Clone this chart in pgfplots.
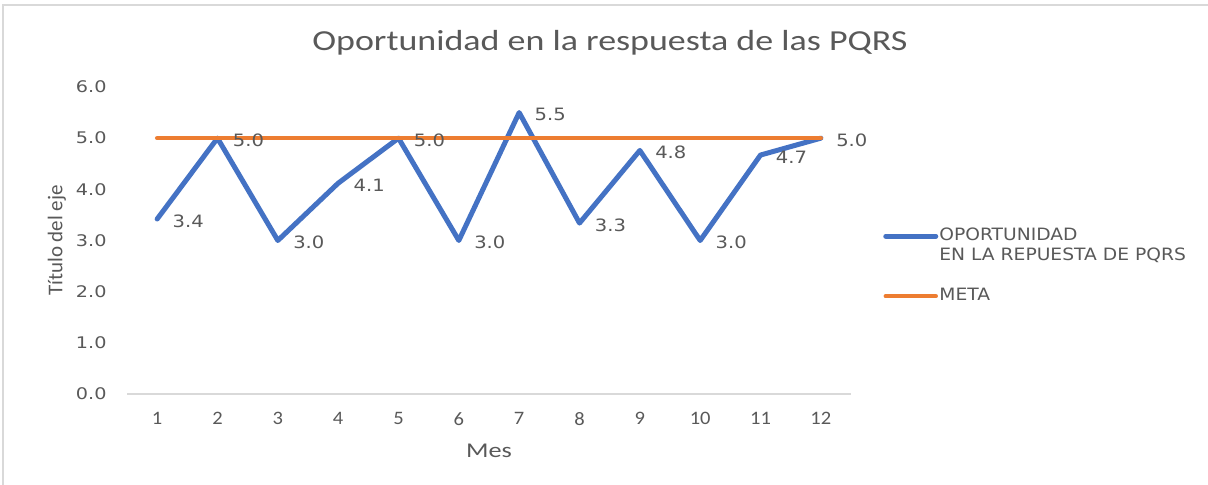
\documentclass[border=0pt]{standalone}
\usepackage{fontspec}
\setmainfont{Carlito}
\newfontfamily\dejavu{DejaVu Sans}
\usepackage{pgfplots}
\pgfplotsset{compat=1.18}

\definecolor{serieA}{HTML}{4472C4}
\definecolor{serieB}{HTML}{ED7D31}
\definecolor{txt}{HTML}{595959}
\definecolor{rejilla}{HTML}{D9D9D9}

\pgfplotstableread{
mes valor
1 3.42
2 5.0
3 3.0
4 4.12
5 5.0
6 3.0
7 5.5
8 3.34
9 4.76
10 3.0
11 4.67
12 5.0
}\oportunidad

\pgfplotstableread{
mes valor
1 5.0
12 5.0
}\meta

\begin{document}
\begin{tikzpicture}
\useasboundingbox (0,0) rectangle (604pt,242.5pt);
\fill[white] (0,0) rectangle (604pt,242.5pt);
\draw[rejilla, line width=1pt] (1.5pt,0) -- (1.5pt,240pt) -- (604pt,240pt);
\begin{axis}[
    at={(63.5pt,45.5pt)}, anchor=south west,
    scale only axis,
    width=362pt, height=153.5pt,
    xmin=0.5, xmax=12.5,
    ymin=0, ymax=6,
    xtick={1,...,12},
    ytick={0,1,...,6},
    axis line style={draw=none},
    axis x line*=bottom,
    axis y line*=left,
    extra description/.code={
        \draw[rejilla, line width=1pt] (axis description cs:0,0) -- (axis description cs:1,0);
    },
    major tick length=0pt,
    yticklabel style={font=\dejavu\fontsize{8}{9}\selectfont, text=txt, anchor=east, inner sep=0pt,
        xshift=-10pt, xscale=1.2,
        /pgf/number format/.cd, fixed, fixed zerofill, precision=1, assume math mode=true},
    xticklabel style={font=\fontsize{9.5}{11}\selectfont, text=txt, anchor=north, inner sep=0pt,
        yshift=-9pt, xscale=1.08,
        /pgf/number format/assume math mode=true},
    xlabel={Mes},
    ylabel={Título del eje},
    xlabel style={at={(axis description cs:0.5,0)}, anchor=north, inner sep=0pt, yshift=-25pt,
        xscale=1.25, font=\fontsize{10.5}{12}\selectfont, text=txt},
    ylabel style={at={(axis description cs:-0.097,0.5)}, anchor=center, inner sep=0pt,
        font=\fontsize{10.5}{12}\selectfont, text=txt},
    title={Oportunidad en la respuesta de las PQRS},
    title style={at={(axis description cs:0.667,1.104)}, anchor=center, inner sep=0pt, xscale=1.24,
        font=\fontsize{14.5}{16}\selectfont, text=txt},
    legend style={at={(axis description cs:1.044,0.548)}, anchor=north west, draw=none, fill=none,
        font=\dejavu\fontsize{8.5}{11}\selectfont, text=txt, row sep=0pt, inner sep=0pt,
        nodes={inner sep=0.5pt, text height=6.5pt, text depth=2.5pt, xscale=1.1}},
    legend cell align=left,
    legend image code/.code={\draw[#1, line cap=round] (0pt,0pt) -- (25pt,0pt);},
    clip=false,
]
\addplot[serieA, line width=2.5pt, line join=round, line cap=round] table[x=mes, y=valor] {\oportunidad};
\addlegendentry{OPORTUNIDAD}
\addlegendimage{empty legend}
\addlegendentry{EN LA REPUESTA DE PQRS}
\addlegendimage{empty legend}
\addlegendentry{}
\addplot[serieB, line width=2.2pt, line cap=round] table[x=mes, y=valor] {\meta};
\addlegendentry{META}
\addplot[draw=none, forget plot,
    nodes near coords={\pgfmathprintnumber[fixed, fixed zerofill, precision=1, assume math mode=true]{\pgfplotspointmeta}},
    every node near coord/.append style={anchor=west, inner sep=0pt, xshift=7.5pt, yshift=-1pt,
        xscale=1.15, font=\dejavu\fontsize{8.5}{10}\selectfont, text=txt},
    point meta=y] table[x=mes, y=valor] {\oportunidad};
\end{axis}
\end{tikzpicture}
\end{document}
